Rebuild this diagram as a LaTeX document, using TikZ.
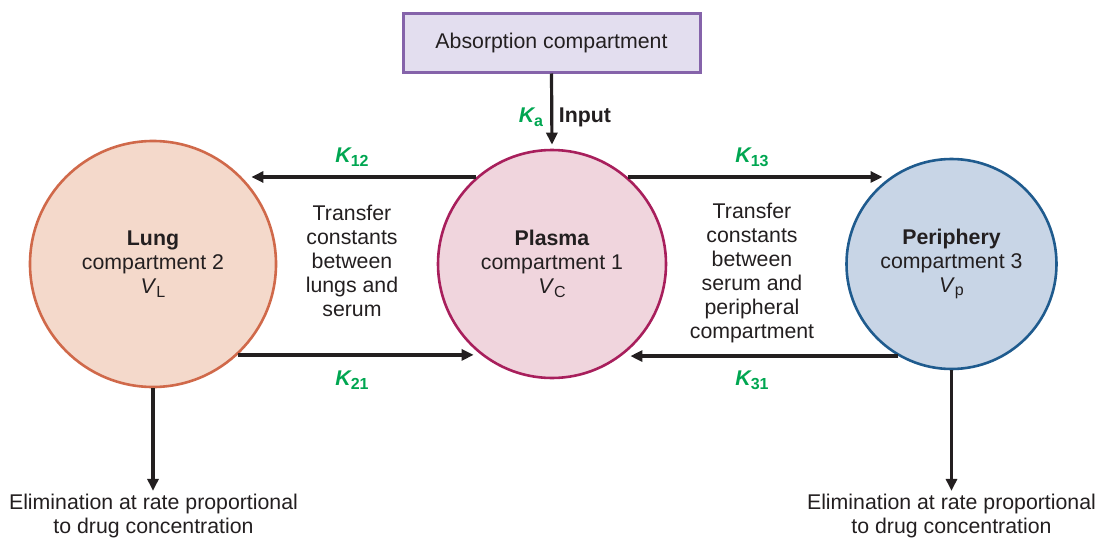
\documentclass[tikz,border=0pt]{standalone}
\usepackage{fontspec}
\setmainfont{Liberation Sans}
\usetikzlibrary{arrows.meta}
\definecolor{txt}{HTML}{231F20}
\definecolor{kgreen}{HTML}{00A651}
\definecolor{lungfill}{HTML}{F4D9CB}
\definecolor{lungdraw}{HTML}{D0694A}
\definecolor{plasfill}{HTML}{F0D5DD}
\definecolor{plasdraw}{HTML}{A81F5C}
\definecolor{perifill}{HTML}{C8D5E6}
\definecolor{peridraw}{HTML}{1F5B8E}
\definecolor{absfill}{HTML}{E3DEEF}
\definecolor{absdraw}{HTML}{8563AA}
\newcommand{\kk}[1]{{\color{kgreen}\bfseries\itshape K}{\color{kgreen}\raisebox{-0.35ex}{\bfseries\fontsize{16}{16}\selectfont #1}}}
\newcommand{\vv}[1]{\textit{V}\raisebox{-0.3ex}{\fontsize{16}{16}\selectfont #1}}
\begin{document}
\begin{tikzpicture}[x=1pt,y=-1pt,
  font=\fontsize{21.3}{24}\selectfont, text=txt,
  arr/.style={draw=txt, line width=3.2pt, -{Triangle[length=12pt,width=11pt]}},
  comp/.style={circle, line width=2.6pt, align=center, inner sep=0pt},
  lbl/.style={align=center, inner sep=2pt}]
\useasboundingbox (0,0) rectangle (1096,538);

\node[draw=absdraw, fill=absfill, line width=3pt, minimum width=297pt, minimum height=59pt] (absorb) at (551.5,42.5) {Absorption compartment};

\node[comp, draw=lungdraw, fill=lungfill, minimum size=246pt] (lung) at (153,264) {\textbf{Lung}\\compartment 2\\\vv{L}};
\node[comp, draw=plasdraw, fill=plasfill, minimum size=228pt] (plasma) at (552,264) {\textbf{Plasma}\\compartment 1\\\vv{C}};
\node[comp, draw=peridraw, fill=perifill, minimum size=210pt] (peri) at (951.5,264) {\textbf{Periphery}\\compartment 3\\\vv{p}};

\draw[arr, shorten >=4pt] (absorb.south) -- (plasma.north);
\node[lbl] (ka) at (531,117) {\kk{a}};
\node[lbl] (input) at (585,117) {\textbf{Input}};

% horizontal transfers
\draw[arr, shorten >=9pt] (plasma.131) -- (plasma.131 -| lung.44.4);
\draw[arr, shorten >=9pt] (lung.-47.7) -- (lung.-47.7 -| plasma.233.6);
\draw[arr, shorten >=8pt] (plasma.49) -- (plasma.49 -| peri.125);
\draw[arr, shorten >=9pt] (peri.240.1) -- (peri.240.1 -| plasma.-53.6);

\node[lbl] (k12) at (352,157) {\kk{12}};
\node[lbl] (k21) at (352,380) {\kk{21}};
\node[lbl] (k13) at (752,157) {\kk{13}};
\node[lbl] (k31) at (752,380) {\kk{31}};

\node[lbl] (tl) at (352,261) {Transfer\\constants\\between\\lungs and\\serum};
\node[lbl] (tr) at (752,273) {Transfer\\constants\\between\\serum and\\peripheral\\compartment};

\node[lbl] (elimL) at (153.5,516) {Elimination at rate proportional\\to drug concentration};
\node[lbl] (elimR) at (951.5,516) {Elimination at rate proportional\\to drug concentration};

\draw[arr, shorten >=1pt] (lung.south) -- (lung.south |- elimL.north);
\draw[arr, shorten >=1pt] (peri.south) -- (peri.south |- elimR.north);
\end{tikzpicture}
\end{document}
